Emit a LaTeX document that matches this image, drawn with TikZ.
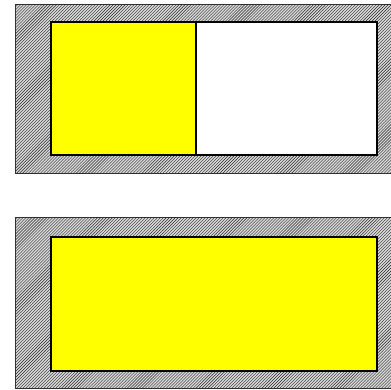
\documentclass[tikz,border=0pt]{standalone}
\usetikzlibrary{patterns}
\definecolor{pureyellow}{RGB}{255,255,0}
\begin{document}
\begin{tikzpicture}[x=1bp,y=-1bp,
  frame/.style={draw=black!80,line width=1.2bp,fill=gray!30,postaction={pattern=north east lines,pattern color=black!85},inner sep=0,anchor=north west},
  panel/.style={draw=black,line width=1.6bp,inner sep=0,anchor=north west}]
\useasboundingbox (0,0) rectangle (391,390);
\begin{scope}
\clip (0,0) rectangle (391,390);
\node[frame,minimum width=380bp,minimum height=169bp] (top) at (15,4) {};
\node[frame,minimum width=380bp,minimum height=171bp] (bot) at (15,217) {};
\end{scope}
\node[panel,fill=pureyellow,minimum width=145bp,minimum height=133bp] (ty) at (50,21) {};
\node[panel,fill=white,minimum width=181bp,minimum height=133bp] (tw) at (195,21) {};
\node[panel,fill=pureyellow,minimum width=326bp,minimum height=134bp] (by) at (50,236) {};
\end{tikzpicture}
\end{document}
